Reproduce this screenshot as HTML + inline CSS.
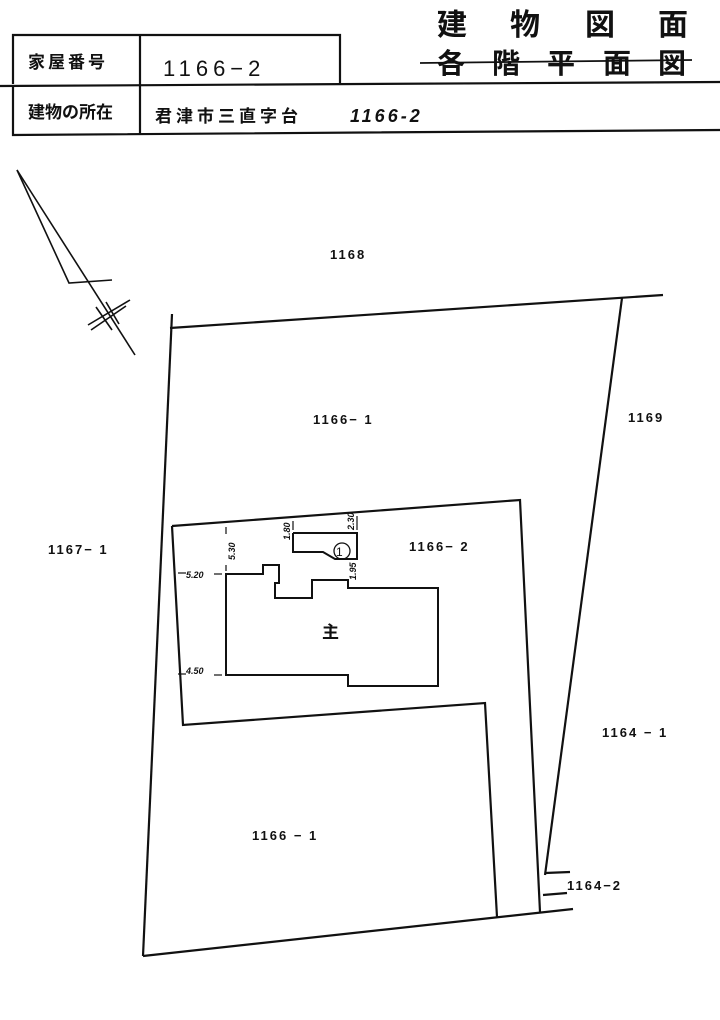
<!DOCTYPE html>
<html><head><meta charset="utf-8"><style>
html,body{margin:0;padding:0;background:#fff}
svg{display:block}
text{font-family:"Liberation Sans","Noto Sans CJK JP",sans-serif;fill:#111}
.j{font-family:"Liberation Sans","Noto Sans CJK JP",sans-serif;font-weight:bold}
</style></head><body>
<svg width="720" height="1020" viewBox="0 0 720 1020" xmlns="http://www.w3.org/2000/svg">
<g stroke="#111" stroke-width="2.2" fill="none">
<polyline points="13,84 13,35 340,35 340,84"/>
<line x1="0" y1="86" x2="720" y2="82"/>
<polyline points="13,86 13,135 720,130"/>
<line x1="140" y1="35" x2="140" y2="134"/>
<line x1="420" y1="63" x2="692" y2="60" stroke-width="1.8"/>
<line x1="17" y1="170" x2="135" y2="355" stroke-width="1.6"/>
<polyline points="17,170 69,283 112,280" stroke-width="1.6"/>
<g stroke-width="1.6">
<line x1="88" y1="325" x2="130" y2="300"/>
<line x1="91" y1="330" x2="126" y2="306"/>
<line x1="96" y1="307" x2="112" y2="330"/>
<line x1="106" y1="302" x2="119" y2="324"/>
</g>
<line x1="170" y1="328" x2="663" y2="295"/>
<line x1="172" y1="314" x2="143" y2="956"/>
<line x1="143" y1="956" x2="573" y2="909"/>
<line x1="622" y1="298" x2="545" y2="875"/>
<polyline points="172,526 520,500 540,912"/>
<polyline points="172,526 183,725 485,703 497,917"/>
<line x1="545" y1="873" x2="570" y2="872"/>
<line x1="543" y1="895" x2="567" y2="893"/>
<polygon points="226,574 263,574 263,565 279,565 279,583 275,583 275,598 312,598 312,580 348,580 348,588 438,588 438,686 348,686 348,675 226,675" stroke-width="2"/>
<polyline points="293,533 357,533 357,559 335,559 323,552 293,552 293,533" stroke-width="2"/>
<circle cx="342" cy="551" r="8" stroke-width="1.3"/>
<g stroke-width="1.2">
<line x1="226" y1="527" x2="226" y2="534"/>
<line x1="226" y1="565" x2="226" y2="571"/>
<line x1="178" y1="573" x2="186" y2="573"/>
<line x1="214" y1="574" x2="222" y2="574"/>
<line x1="178" y1="674" x2="186" y2="674"/>
<line x1="214" y1="675" x2="222" y2="675"/>
<line x1="293" y1="521" x2="293" y2="530"/>
<line x1="357" y1="516" x2="357" y2="530"/>
</g>
</g>
<text x="28" y="68" font-size="17" letter-spacing="3" font-weight="bold">家屋番号</text>
<text x="163" y="76" font-size="22" letter-spacing="5">1166−2</text>
<text x="28" y="118" font-size="17" font-weight="bold">建物の所在</text>
<text x="155" y="122" font-size="17" letter-spacing="4" font-weight="bold">君津市三直字台</text>
<text x="350" y="122" font-size="18" font-style="italic" letter-spacing="3" font-weight="bold">1166-2</text>
<text class="j" x="437" y="35" font-size="30">建</text>
<text class="j" x="510" y="35" font-size="30">物</text>
<text class="j" x="585" y="35" font-size="30">図</text>
<text class="j" x="658" y="35" font-size="30">面</text>
<text class="j" x="437" y="73" font-size="28">各</text>
<text class="j" x="492" y="73" font-size="28">階</text>
<text class="j" x="547" y="73" font-size="28">平</text>
<text class="j" x="603" y="73" font-size="28">面</text>
<text class="j" x="658" y="73" font-size="28">図</text>
<g font-size="13" font-weight="bold" letter-spacing="2">
<text x="330" y="259">1168</text>
<text x="313" y="424">1166− 1</text>
<text x="628" y="422">1169</text>
<text x="48" y="554">1167− 1</text>
<text x="409" y="551">1166− 2</text>
<text x="602" y="737">1164 −  1</text>
<text x="252" y="840">1166 −  1</text>
<text x="567" y="890">1164−2</text>
</g>
<text x="322" y="638" font-size="17" font-weight="bold">主</text>
<text x="336" y="556" font-size="12">1</text>
<g font-size="9" font-style="italic" font-weight="bold">
<text x="186" y="578">5.20</text>
<text x="186" y="674">4.50</text>
<text transform="translate(235,560) rotate(-90)">5.30</text>
<text transform="translate(290,540) rotate(-90)">1.80</text>
<text transform="translate(354,530) rotate(-90)">2.30</text>
<text transform="translate(356,580) rotate(-90)">1.95</text>
</g>
</svg>
</body></html>
